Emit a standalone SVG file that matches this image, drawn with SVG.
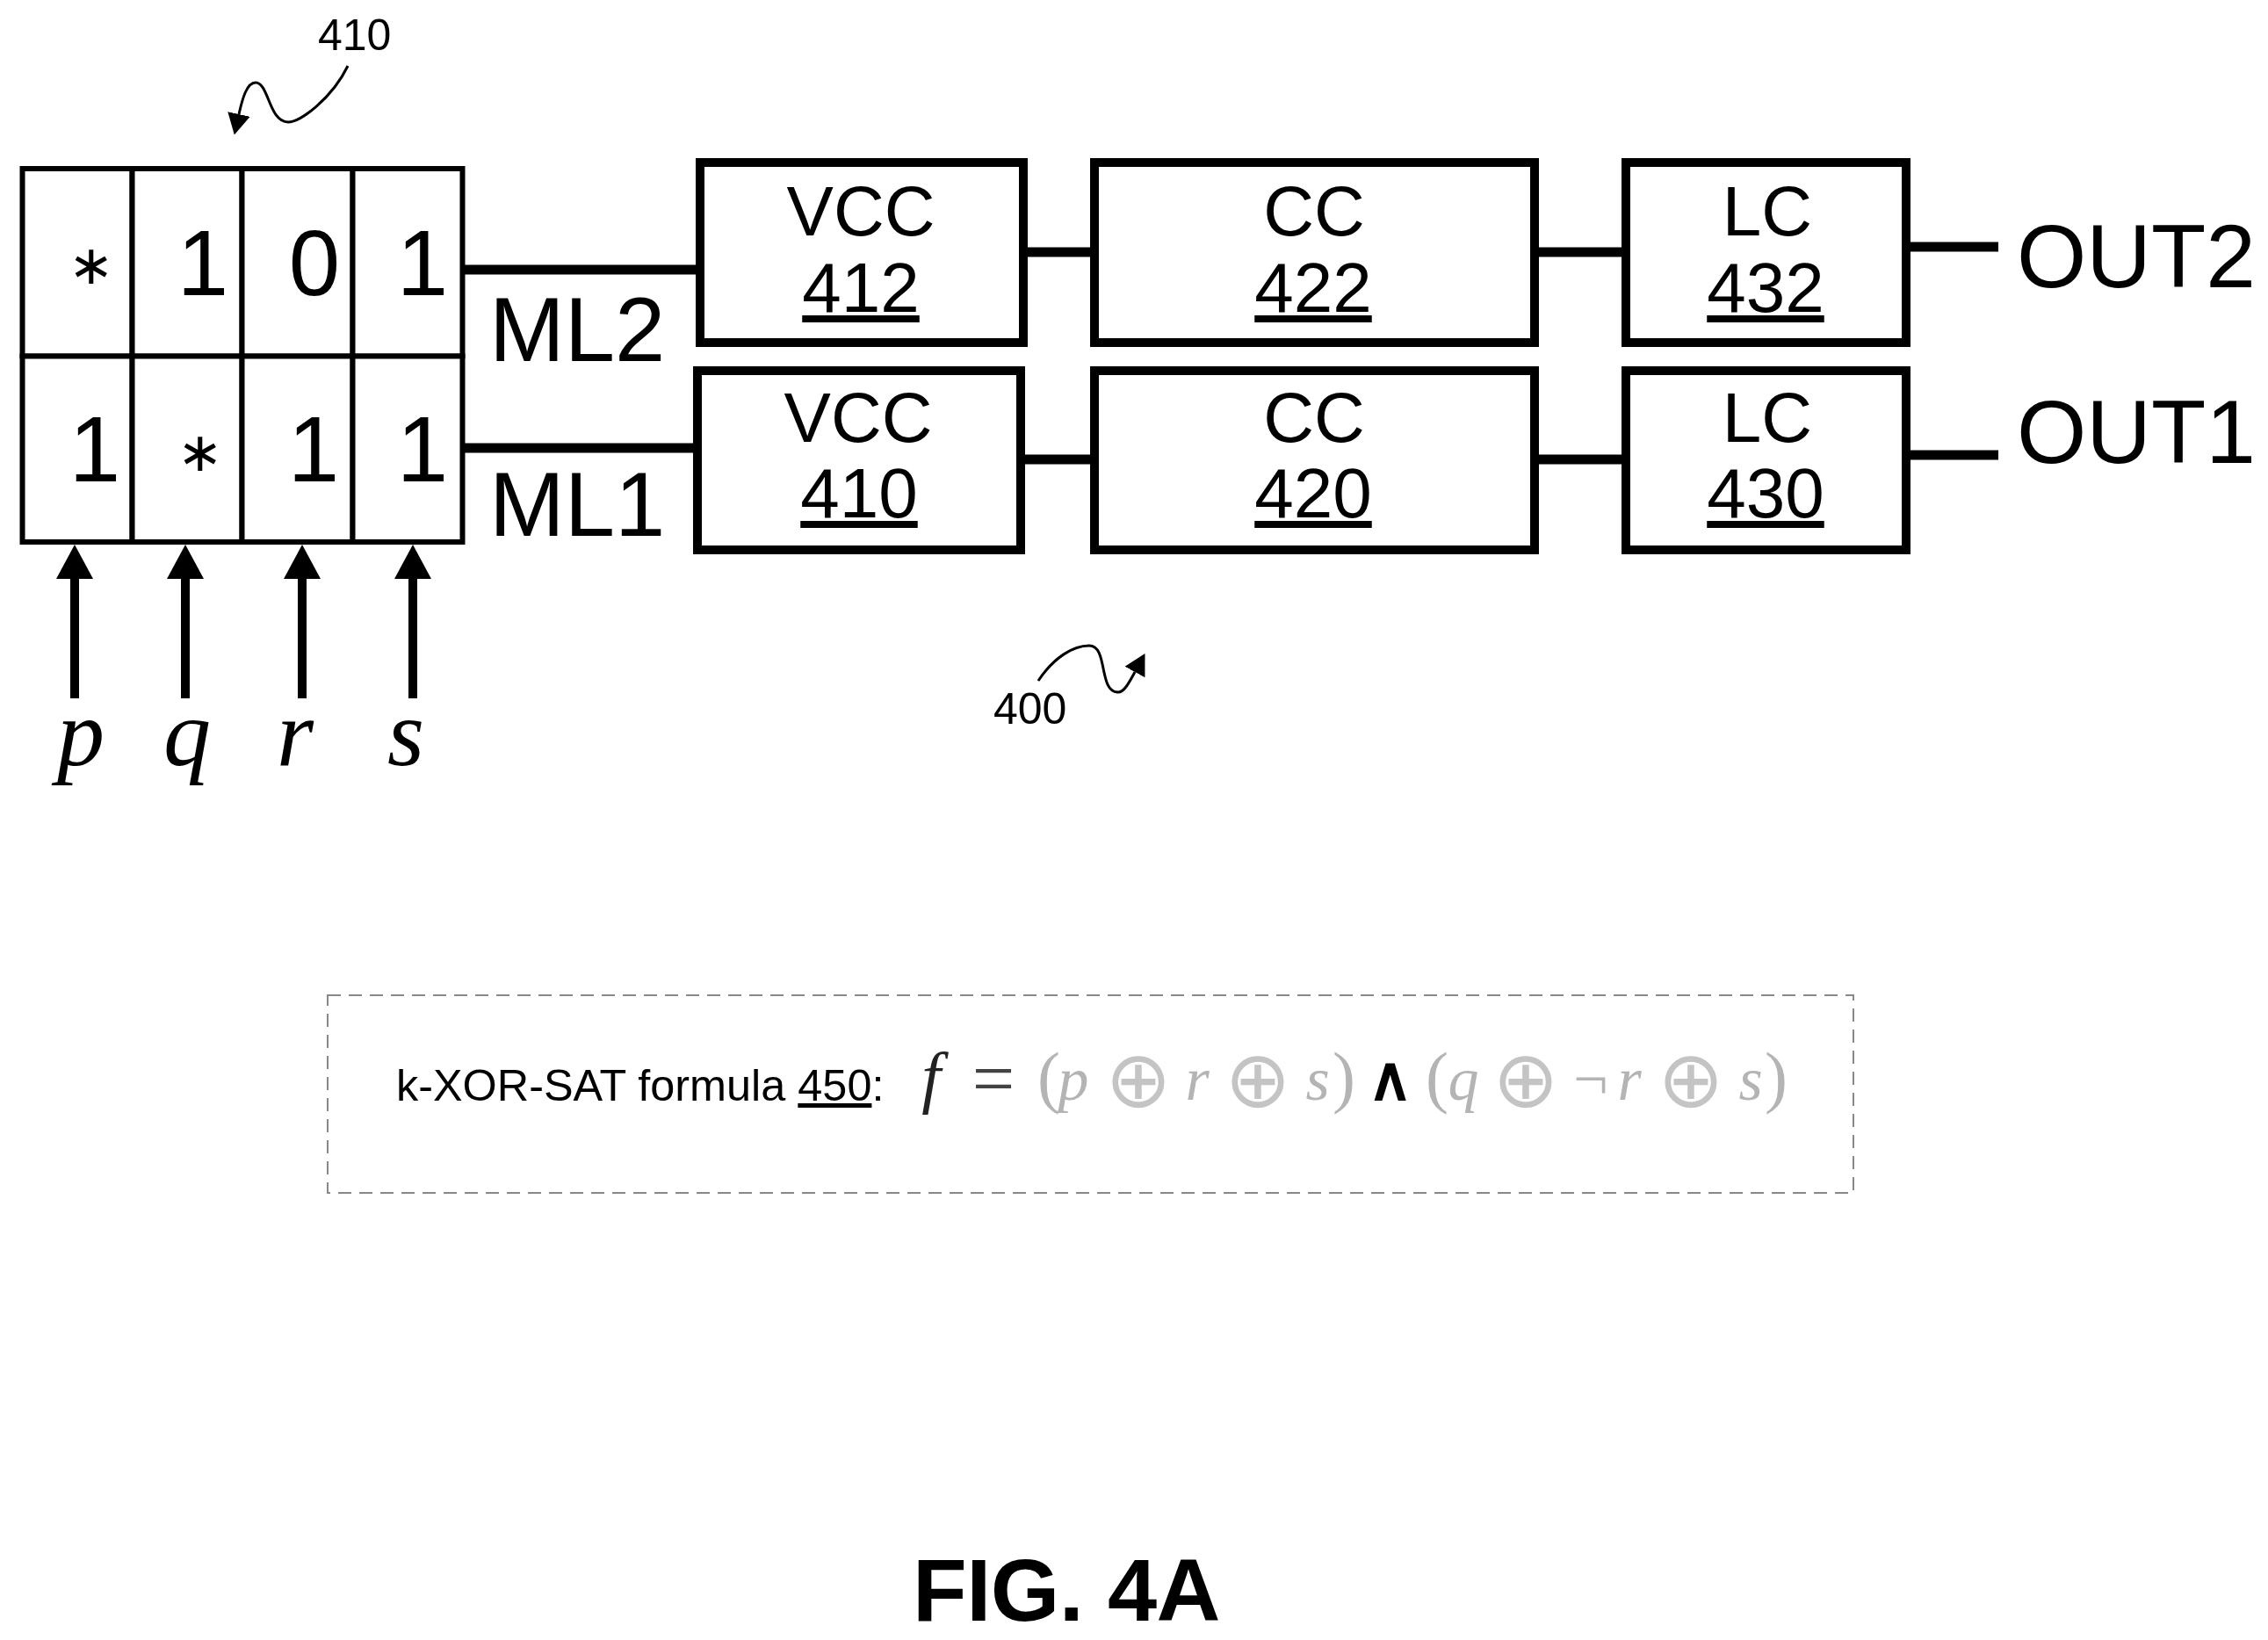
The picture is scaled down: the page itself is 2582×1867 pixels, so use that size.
<svg xmlns="http://www.w3.org/2000/svg" width="2582" height="1867" viewBox="0 0 2582 1867">
<style>
text{font-family:"Liberation Sans",Arial,sans-serif;fill:#000}
.box{fill:#fff;stroke:#000;stroke-width:10}
.cell{fill:#fff;stroke:#000;stroke-width:6}
.wire{stroke:#000;stroke-width:11;fill:none}
.in{stroke:#000;stroke-width:10;fill:none;marker-end:url(#ah)}
.sq{stroke:#000;stroke-width:3;fill:none;marker-end:url(#sh)}
.t80{font-size:80px;text-anchor:middle}
.ml{font-size:103px}
.out{font-size:102px}
.d{font-size:105px;text-anchor:middle}
.star{font-family:"DejaVu Sans",sans-serif;font-size:62px;text-anchor:middle}
.v{font-family:"Liberation Serif",serif;font-style:italic;font-size:108px}
.g{font-family:"Liberation Serif",serif;fill:#b4b4b4;font-size:70px;text-anchor:middle}
.gi{font-style:italic}
.gp{font-size:78px}
.x{font-family:"DejaVu Sans",sans-serif;font-size:90px;fill:#c4c4c4;text-anchor:middle}
.u{text-decoration:underline}
</style>
<defs>
<marker id="ah" markerUnits="userSpaceOnUse" viewBox="0 0 39 42" refX="9" refY="21" markerWidth="39" markerHeight="42" orient="auto"><path d="M0 0L39 21L0 42Z" fill="#000"/></marker>
<marker id="sh" markerUnits="userSpaceOnUse" viewBox="0 0 24 26" refX="0" refY="13" markerWidth="24" markerHeight="26" orient="auto"><path d="M0 0L24 13L0 26Z" fill="#000"/></marker>
</defs>
<rect width="2582" height="1867" fill="#fff"/>
<g id="connectors">
<line class="wire" x1="529" y1="307" x2="795" y2="307"/>
<line class="wire" x1="529" y1="510" x2="790" y2="510"/>
<line class="wire" x1="1170" y1="287" x2="1241" y2="287"/>
<line class="wire" x1="1167" y1="523" x2="1241" y2="523"/>
<line class="wire" x1="1752" y1="287" x2="1847" y2="287"/>
<line class="wire" x1="1752" y1="523" x2="1847" y2="523"/>
<line class="wire" x1="2175" y1="281" x2="2275" y2="281"/>
<line class="wire" x1="2175" y1="518" x2="2275" y2="518"/>
<line class="in" x1="85" y1="795" x2="85" y2="650"/>
<line class="in" x1="211" y1="795" x2="211" y2="650"/>
<line class="in" x1="344" y1="795" x2="344" y2="650"/>
<line class="in" x1="470" y1="795" x2="470" y2="650"/>
<path class="sq" d="M396 75C378 112 342 139 328 139C306 139 306 94 291 94C281 94 276 112 272 130"/>
<path class="sq" d="M1182 775C1200 748 1222 735 1240 735C1262 735 1250 788 1273 788C1280 788 1286 776 1292 765"/>
</g>
<g id="array-410">
<rect class="cell" x="25.500" y="192" width="125" height="213.500"/>
<rect class="cell" x="150.500" y="192" width="125" height="213.500"/>
<rect class="cell" x="275.500" y="192" width="126" height="213.500"/>
<rect class="cell" x="401.500" y="192" width="125" height="213.500"/>
<rect class="cell" x="25.500" y="405.500" width="125" height="211.500"/>
<rect class="cell" x="150.500" y="405.500" width="125" height="211.500"/>
<rect class="cell" x="275.500" y="405.500" width="126" height="211.500"/>
<rect class="cell" x="401.500" y="405.500" width="125" height="211.500"/>
<text class="star" x="104" y="323">∗</text>
<text class="d" x="231" y="336">1</text>
<text class="d" x="358" y="336">0</text>
<text class="d" x="481" y="336">1</text>
<text class="d" x="108" y="548">1</text>
<text class="star" x="228" y="536">∗</text>
<text class="d" x="357" y="548">1</text>
<text class="d" x="481" y="548">1</text>
</g>
<g id="node-vcc-412"><rect class="box" x="797" y="185" width="368" height="205"/><text class="t80" x="980" y="268">VCC</text><text class="t80 u" x="980" y="355">412</text></g>
<g id="node-cc-422"><rect class="box" x="1246" y="185" width="501" height="205"/><text class="t80" x="1496" y="268">CC</text><text class="t80 u" x="1495" y="355">422</text></g>
<g id="node-lc-432"><rect class="box" x="1851" y="185" width="319" height="205"/><text class="t80" x="2012" y="268">LC</text><text class="t80 u" x="2010" y="355">432</text></g>
<g id="node-vcc-410"><rect class="box" x="794" y="422" width="368" height="204"/><text class="t80" x="977" y="503">VCC</text><text class="t80 u" x="978" y="589">410</text></g>
<g id="node-cc-420"><rect class="box" x="1246" y="422" width="501" height="204"/><text class="t80" x="1496" y="503">CC</text><text class="t80 u" x="1495" y="589">420</text></g>
<g id="node-lc-430"><rect class="box" x="1851" y="422" width="319" height="204"/><text class="t80" x="2012" y="503">LC</text><text class="t80 u" x="2010" y="589">430</text></g>
<g id="labels">
<text class="ml" x="557" y="411">ML2</text>
<text class="ml" x="557" y="610">ML1</text>
<text class="out" x="2296" y="327">OUT2</text>
<text class="out" x="2296" y="527">OUT1</text>
<text x="362" y="57" font-size="50">410</text>
<text x="1131" y="824" font-size="50">400</text>
<text class="v" x="65" y="871">p</text>
<text class="v" x="186" y="871">q</text>
<text class="v" x="315" y="871">r</text>
<text class="v" x="441" y="871">s</text>
</g>
<g id="formula-450">
<rect x="373" y="1133" width="1737" height="225" fill="none" stroke="#888" stroke-width="2" stroke-dasharray="15 9"/>
<text x="451" y="1253" font-size="50.400">k-XOR-SAT formula <tspan class="u">450</tspan>:</text>
<text class="g gi gp" x="1060" y="1252" style="fill:#222">f</text>
<text class="g" x="1131" y="1257" style="fill:#444;font-size:86px">=</text>
<text class="g gp" x="1194" y="1252">(</text>
<text class="g gi" x="1222" y="1252">p</text>
<text class="x" x="1296" y="1260">⊕</text>
<text class="g gi" x="1363" y="1252">r</text>
<text class="x" x="1432" y="1260">⊕</text>
<text class="g gi" x="1500" y="1252">s</text>
<text class="g gp" x="1530" y="1252">)</text>
<text x="1582" y="1252" font-family="DejaVu Sans" font-size="70" font-weight="700" text-anchor="middle">∧</text>
<text class="g gp" x="1636" y="1252">(</text>
<text class="g gi" x="1666" y="1252">q</text>
<text class="x" x="1737" y="1260">⊕</text>
<text class="g" x="1811" y="1252">¬</text>
<text class="g gi" x="1855" y="1252">r</text>
<text class="x" x="1925" y="1260">⊕</text>
<text class="g gi" x="1993" y="1252">s</text>
<text class="g gp" x="2022" y="1252">)</text>
</g>
<text id="figure-label" x="1039" y="1845" font-size="101" font-weight="700" letter-spacing="-0.500">FIG. 4A</text>
</svg>
